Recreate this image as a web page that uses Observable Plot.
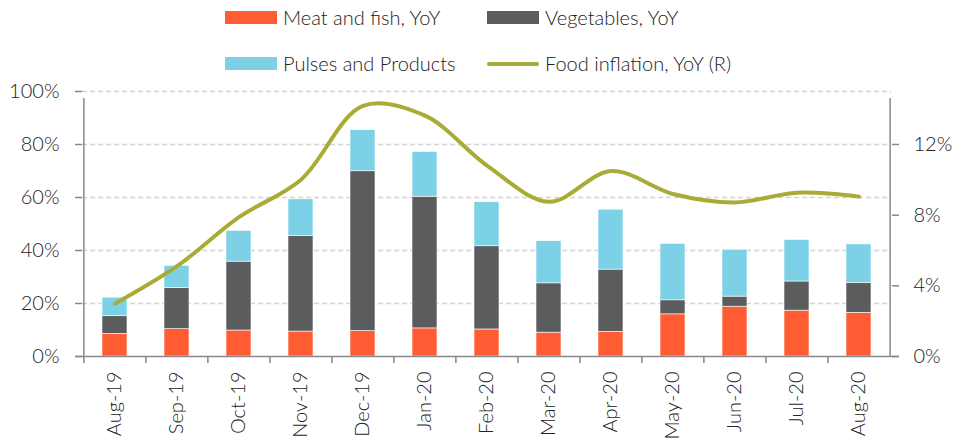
<!DOCTYPE html>
<html>
<head>
<meta charset="utf-8">
<script src="https://cdn.jsdelivr.net/npm/d3@7"></script>
<script src="https://cdn.jsdelivr.net/npm/@observablehq/plot@0.6"></script>
<style>
  html, body { margin: 0; padding: 0; background: #fff; }
  #wrap { position: relative; width: 963px; height: 441px; font-family: Lato, "Open Sans", sans-serif; font-weight: 300; color: #222; }
  #legend { position: absolute; left: 0; top: 0; width: 963px; height: 80px; z-index: 1; }
  .sw { position: absolute; }
  .lt { position: absolute; font-size: 20px; line-height: 20px; white-space: nowrap; }
  #chart { position: absolute; left: 0; top: 70px; }
  #chart svg { overflow: visible; }
</style>
</head>
<body>
<div id="wrap">
  <div id="chart"></div>
  <div id="legend"></div>
</div>
<script>
// ---- data ----
const months = ["Aug-19","Sep-19","Oct-19","Nov-19","Dec-19","Jan-20","Feb-20","Mar-20","Apr-20","May-20","Jun-20","Jul-20","Aug-20"];
const meatFish   = [8.5, 10.3, 9.8, 9.4, 9.6, 10.6, 10.2, 9.0, 9.3, 15.9, 18.8, 17.3, 16.5];
const vegetables = [6.7, 15.5, 26.0, 36.0, 60.3, 49.7, 31.4, 18.6, 23.5, 5.3, 3.8, 11.0, 11.3];
const pulses     = [7.0, 8.4, 11.6, 13.9, 15.5, 16.9, 16.6, 15.9, 22.6, 21.3, 17.7, 15.7, 14.5];
const foodInflation = [2.99, 5.11, 7.89, 10.01, 14.19, 13.63, 10.81, 8.76, 10.5, 9.2, 8.72, 9.27, 9.05];
const seriesNames = ["Meat and fish, YoY", "Vegetables, YoY", "Pulses and Products"];
const lineName = "Food inflation, YoY (R)";
const leftTicks = [0, 20, 40, 60, 80, 100];
const rightTicks = [0, 4, 8, 12];

// ---- styling ----
const colors = ["#FF5C33", "#5B5C5E", "#7DD1E6"];
const lineColor = "#A8AC37";
const axisColor = "#888888";

// ---- legend ----
const legend = document.getElementById("legend");
const items = [
  {name: seriesNames[0], type: "box", color: colors[0], x: 225, y: 11},
  {name: seriesNames[1], type: "box", color: colors[1], x: 487, y: 11},
  {name: seriesNames[2], type: "box", color: colors[2], x: 225, y: 57},
  {name: lineName, type: "line", color: lineColor, x: 487, y: 57}
];
for (const it of items) {
  const s = document.createElement("div");
  s.className = "sw";
  s.style.left = it.x + "px";
  s.style.width = "52px";
  s.style.background = it.color;
  if (it.type === "box") { s.style.top = it.y + "px"; s.style.height = "13px"; }
  else { s.style.top = (it.y + 5) + "px"; s.style.height = "4px"; s.style.borderRadius = "2px"; }
  legend.appendChild(s);
  const t = document.createElement("div");
  t.className = "lt";
  t.textContent = it.name;
  t.style.left = (it.x + 58) + "px";
  t.style.top = (it.y - 4) + "px";
  legend.appendChild(t);
}

// ---- chart ----
const W = 963, H = 371, mL = 82, mR = 72, mT = 21, mB = 85;
const step = (W - mL - mR) / months.length;
const k = 100 / 15; // right axis 0–15% mapped onto left 0–100%

const bars = [];
months.forEach((m, i) => {
  bars.push({month: m, series: seriesNames[0], value: meatFish[i]});
  bars.push({month: m, series: seriesNames[1], value: vegetables[i]});
  bars.push({month: m, series: seriesNames[2], value: pulses[i]});
});
const line = months.map((m, i) => ({month: m, value: foodInflation[i]}));

const chart = Plot.plot({
  width: W, height: H,
  marginLeft: mL, marginRight: mR, marginTop: mT, marginBottom: mB,
  style: {fontFamily: "Lato, 'Open Sans', sans-serif", fontSize: "20px", fontWeight: 300, color: "#222", background: "transparent", overflow: "visible"},
  x: {domain: months, paddingInner: 0.6, paddingOuter: 0.3, label: null},
  y: {domain: [0, 100], label: null},
  color: {domain: seriesNames, range: colors},
  marks: [
    Plot.gridY({ticks: leftTicks.slice(1), stroke: "#d4d4d4", strokeOpacity: 1, strokeWidth: 1.5, strokeDasharray: "5,3"}),
    Plot.barY(bars, {x: "month", y: "value", fill: "series", order: seriesNames, stroke: "white", strokeWidth: 0.6}),
    Plot.line(line, {x: "month", y: d => d.value * k, stroke: lineColor, strokeWidth: 4, curve: "catmull-rom", strokeLinecap: "round"}),
    // axis lines
    Plot.ruleY([0], {stroke: axisColor, strokeWidth: 1.5, insetLeft: -7, insetRight: -8}),
    Plot.ruleX([months[0]], {x: d => d, dx: -step / 2, y1: 0, y2: 100, insetBottom: -7, stroke: axisColor, strokeWidth: 1.5}),
    Plot.ruleX([months[months.length - 1]], {x: d => d, dx: step / 2, y1: 0, y2: 100, insetBottom: -7, stroke: axisColor, strokeWidth: 1.5}),
    Plot.ruleX(months, {x: d => d, dx: -step / 2, y1: 0, y2: 0, insetBottom: -7, stroke: axisColor, strokeWidth: 1.5}),
    // axes
    Plot.axisY({ticks: leftTicks, tickSize: 7, tickPadding: 16, tickFormat: d => d + "%", stroke: axisColor, strokeWidth: 1.5, label: null}),
    Plot.axisY({anchor: "right", ticks: rightTicks.map(v => v * k), tickSize: 7, tickPadding: 15, tickFormat: v => Math.round(v / k) + "%", stroke: axisColor, strokeWidth: 1.5, label: null}),
    Plot.axisX({tickRotate: -90, tickSize: 0, tickPadding: 15, label: null})
  ]
});
document.getElementById("chart").appendChild(chart);
</script>
</body>
</html>
